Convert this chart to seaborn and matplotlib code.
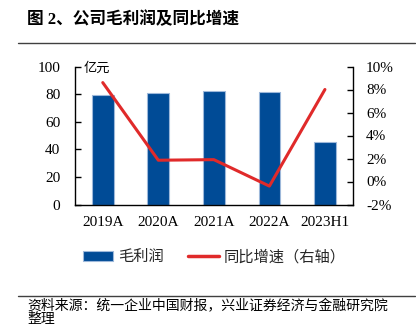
import matplotlib
matplotlib.use("Agg")
import matplotlib.pyplot as plt
import seaborn as sns
import pandas as pd
from matplotlib.lines import Line2D
from matplotlib.patches import Patch
from matplotlib.ticker import FuncFormatter, MultipleLocator

categories = ["2019A", "2020A", "2021A", "2022A", "2023H1"]
gross_profit = [79.4, 80.6, 82.1, 81.6, 45.3]
yoy_growth = [8.6, 1.85, 1.9, -0.4, 8.0]

title_text = "图 2、公司毛利润及同比增速"
unit_text = "亿元"
legend_bar = "毛利润"
legend_line = "同比增速（右轴）"
source_text = "资料来源：统一企业中国财报，兴业证券经济与金融研究院"
source_text2 = "整理"

sns.set_theme(style="white")
plt.rcParams["font.family"] = ["Liberation Serif", "Noto Sans CJK SC", "DejaVu Sans"]
plt.rcParams["axes.unicode_minus"] = False

bar_color = "#004B96"
line_color = "#E02A2A"

df = pd.DataFrame({"cat": categories, "gp": gross_profit, "yoy": yoy_growth})

W, H = 416, 326
fig = plt.figure(figsize=(W / 100, H / 100), dpi=100)
ax = fig.add_axes([75 / W, 1 - 204.5 / H, (352.7 - 75) / W, (204.5 - 66.5) / H])

sns.barplot(data=df, x="cat", y="gp", ax=ax, color=bar_color, width=0.39,
            edgecolor="#9DB8DA", linewidth=0.8, saturation=1)
ax.set_ylim(0, 100)
ax.set_xlim(-0.5, len(categories) - 0.5)
ax.yaxis.set_major_locator(MultipleLocator(20))
ax.set_xlabel("")
ax.set_ylabel("")

ax2 = ax.twinx()
sns.lineplot(data=df, x="cat", y="yoy", ax=ax2, color=line_color, linewidth=2.2)
ax2.set_ylim(-2, 10)
ax2.yaxis.set_major_locator(MultipleLocator(2))
ax2.yaxis.set_major_formatter(FuncFormatter(lambda v, p: f"{int(round(v))}%"))
ax2.set_ylabel("")
ax2.set_xlabel("")

for a in (ax, ax2):
    a.spines["top"].set_visible(False)
    for s in ["left", "right", "bottom"]:
        a.spines[s].set_color("black")
        a.spines[s].set_linewidth(1.0)
ax.spines["right"].set_visible(False)
ax2.spines["left"].set_visible(False)
ax2.spines["bottom"].set_visible(False)

ax.tick_params(axis="y", direction="in", length=4, width=1, pad=10.5,
               labelsize=11, colors="black", left=True)
ax.tick_params(axis="x", length=0, pad=8, labelsize=11, colors="black")
ax2.tick_params(axis="y", direction="in", length=4, width=1, pad=9.5,
                labelsize=11, colors="black", right=True)

ax.text(0.032, 0.985, unit_text, transform=ax.transAxes, ha="left", va="center",
        fontsize=9.5, color="black")

fig.text(27 / W, 1 - 20 / H, title_text, ha="left", va="center",
         fontsize=12, fontweight="bold", color="black")
fig.add_artist(Line2D([18 / W, 415 / W], [1 - 43 / H, 1 - 43 / H],
                      color="#404040", linewidth=1.0))
fig.add_artist(Line2D([18 / W, 415 / W], [1 - 295.5 / H, 1 - 295.5 / H],
                      color="#404040", linewidth=1.0))

handles = [Patch(facecolor=bar_color, edgecolor="#9DB8DA", linewidth=0.8),
           Line2D([0], [0], color=line_color, linewidth=2.5)]
leg = fig.legend(handles, [legend_bar, legend_line], loc="center",
                 bbox_to_anchor=(214 / W, 1 - 257 / H), ncol=2, frameon=False,
                 fontsize=11, handlelength=2.0, handleheight=0.6,
                 columnspacing=1.6, handletextpad=0.3)

fig.text(27 / W, 1 - 306.5 / H, source_text, ha="left", va="center",
         fontsize=10, color="black")
fig.text(27 / W, 1 - 319 / H, source_text2, ha="left", va="center",
         fontsize=10, color="black")

fig.savefig("out.png", dpi=100)
